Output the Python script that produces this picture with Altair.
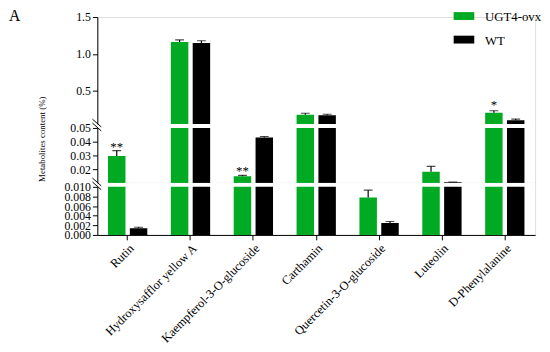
import altair as alt
import pandas as pd

categories = ["Rutin", "Hydroxysafflor yellow A", "Kaempferol-3-O-glucoside",
              "Carthamin", "Quercetin-3-O-glucoside", "Luteolin", "D-Phenylalanine"]
groups = ["UGT4-ovx", "WT"]
ugt4_mean = [0.0295, 1.160, 0.0148, 0.176, 0.0078, 0.0181, 0.203]
ugt4_err = [0.0040, 0.030, 0.0007, 0.020, 0.0015, 0.0040, 0.027]
wt_mean = [0.0014, 1.148, 0.0430, 0.170, 0.0025, 0.0104, 0.100]
wt_err = [0.0002, 0.030, 0.0008, 0.012, 0.0003, 0.0002, 0.017]

star_cats = ["Rutin", "Kaempferol-3-O-glucoside", "D-Phenylalanine"]
star_text = ["**", "**", "*"]
star_vals = [0.0400, 0.0225, 0.380]

top_ticks = [0.5, 1.0, 1.5]
mid_ticks = [0.02, 0.03, 0.04, 0.05]
bot_ticks = [0.000, 0.002, 0.004, 0.006, 0.008, 0.010]

GREEN = "#00AA22"
FONT = "Liberation Serif"
W = 446
GAP = 4

rows = []
for i, c in enumerate(categories):
    rows.append({"category": c, "group": groups[0], "value": ugt4_mean[i], "hi": ugt4_mean[i] + ugt4_err[i]})
    rows.append({"category": c, "group": groups[1], "value": wt_mean[i], "hi": wt_mean[i] + wt_err[i]})
df = pd.DataFrame(rows)
stars = pd.DataFrame({"category": star_cats, "group": [groups[0]] * 3, "label": star_text, "value": star_vals})

xscale = alt.Scale(domain=categories, paddingInner=0.375, paddingOuter=0.17)
xoff = alt.XOffset("group:N", sort=groups, scale=alt.Scale(domain=groups, paddingInner=0.2))
cscale = alt.Scale(domain=groups, range=[GREEN, "#000000"])
color = alt.Color("group:N", sort=groups, scale=cscale, legend=None)


def legend_layers():
    out = []
    for k, g in enumerate(groups):
        d = pd.DataFrame({"group": [g]})
        yc = -1 + 24 * k
        out.append(alt.Chart(d).mark_rect().encode(
            x=alt.value(363), x2=alt.value(384), y=alt.value(yc - 4), y2=alt.value(yc + 4),
            color=color))
        out.append(alt.Chart(d).mark_text(font=FONT, fontSize=13, align="left", baseline="middle",
                                          color="#000000").encode(
            x=alt.value(395), y=alt.value(yc + 1), text="group:N"))
    return out


def panel(domain, plot_h, ticks, fmt, gap=0, bottom=False, title=False, letter=False):
    height = plot_h + gap
    xaxis = None
    if bottom:
        xaxis = alt.Axis(labelAngle=-45, labelFont=FONT, labelFontSize=12.5, labelColor="#000000",
                         tickSize=5, tickColor="#000000", domainColor="#000000", title=None,
                         labelPadding=2, labelOverlap=False, labelLimit=0)
    yargs = dict(values=ticks, format=fmt, labelFont=FONT, labelFontSize=12, labelColor="#000000",
                 tickSize=5, tickColor="#000000", domainColor="#000000", labelPadding=2,
                 labelOverlap=False, grid=False, title=None)
    if title:
        yargs.update(title="Metabolites content (%)", titleFont=FONT, titleFontSize=9,
                     titleFontWeight="normal", titleColor="#000000", titleX=-52, titleY=15,
                     titleAngle=-90, titleAlign="center", titleBaseline="bottom")
    yaxis = alt.Axis(**yargs)
    yscale = alt.Scale(domain=domain, zero=False, nice=False, range=[height, gap])
    x = alt.X("category:N", sort=categories, scale=xscale, axis=xaxis)
    base = alt.Chart(df).encode(x=x, xOffset=xoff)
    bars = base.mark_bar(clip=True).encode(
        y=alt.Y("value:Q", scale=yscale, axis=yaxis),
        y2=alt.datum(domain[0]),
        color=color,
    )
    visible = base.transform_filter(alt.datum.hi > domain[0])
    err = visible.mark_rule(clip=True, color="#000000", strokeWidth=1.2).encode(
        y=alt.Y("value:Q", axis=yaxis), y2="hi:Q")
    cap = visible.mark_tick(clip=True, color="#000000", thickness=1.2, size=9, orient="horizontal").encode(
        y=alt.Y("hi:Q", axis=yaxis))
    st = alt.Chart(stars).mark_text(clip=True, font=FONT, fontSize=13, baseline="middle",
                                    dy=5, color="#000000").encode(
        x=x, xOffset=xoff, y=alt.Y("value:Q", axis=yaxis), text="label:N")
    layers = [bars, err, cap, st]
    if gap:
        one = pd.DataFrame({"k": [0]})
        # white band marking the break between segments
        layers.append(alt.Chart(one).mark_rule(color="#ffffff", strokeWidth=gap).encode(
            x=alt.value(1), x2=alt.value(W), y=alt.value(gap / 2)))
        layers.append(alt.Chart(one).mark_rule(color="#000000", strokeWidth=1).encode(
            x=alt.value(-5), x2=alt.value(4), y=alt.value(-5), y2=alt.value(3)))
        layers.append(alt.Chart(one).mark_rule(color="#000000", strokeWidth=1).encode(
            x=alt.value(-5), x2=alt.value(4), y=alt.value(-1), y2=alt.value(7)))
    if letter:
        one = pd.DataFrame({"t": ["A"]})
        layers.append(alt.Chart(one).mark_text(font=FONT, fontSize=16, align="left",
                                               baseline="top", color="#000000").encode(
            x=alt.value(-90), y=alt.value(-9), text="t:N"))
        layers.extend(legend_layers())
    return alt.layer(*layers).properties(width=W, height=height)


top = panel([0.05, 1.5], 109, top_ticks, ".1f", letter=True)
mid = panel([0.01, 0.05], 56, mid_ticks, ".2f", gap=GAP, title=True)
bot = panel([0.0, 0.010], 49, bot_ticks, ".3f", gap=GAP, bottom=True)

chart = alt.vconcat(top, mid, bot, spacing=0, bounds="flush").resolve_scale(
    y="independent", x="shared", color="shared", xOffset="shared"
).properties(
    padding={"left": 0, "top": -4, "right": 0, "bottom": 0}
).configure_view(stroke=None).configure(background="#ffffff")

chart.save("out.html", embed_options={"renderer": "svg", "actions": False})
